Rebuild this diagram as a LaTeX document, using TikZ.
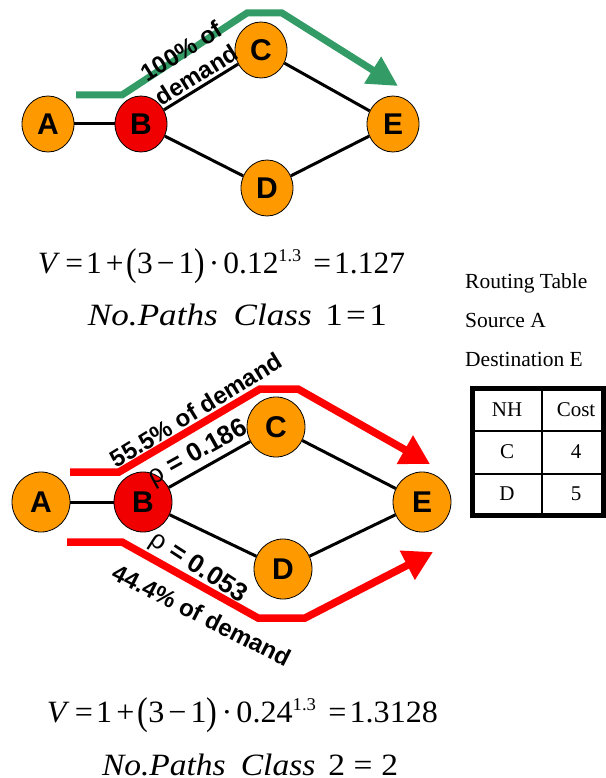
\documentclass[tikz,border=0pt]{standalone}
\usepackage{fontspec}
\usepackage{graphicx}
\setmainfont{Liberation Serif}
\newfontfamily\arialf{Liberation Sans}
\usetikzlibrary{arrows.meta,shapes.geometric}
\definecolor{nodeorange}{RGB}{255,153,0}
\definecolor{nodered}{RGB}{240,0,0}
\definecolor{flowgreencol}{RGB}{51,155,102}
\definecolor{flowredcol}{RGB}{255,0,0}
\newcommand{\bigparL}{\raisebox{-0.09em}{\scalebox{1}[1.25]{(}}}
\newcommand{\bigparR}{\raisebox{-0.09em}{\scalebox{1}[1.25]{)}}}
\newcommand{\supsm}[1]{\raisebox{0.36em}{\fontsize{18}{18}\selectfont #1}}
\tikzset{
  vnode/.style={ellipse, draw=black, line width=0.8pt, fill=nodeorange, inner sep=0pt,
    font=\arialf\bfseries\fontsize{30}{30}\selectfont},
  smallv/.style={minimum width=52pt, minimum height=56pt},
  bigv/.style={minimum width=58pt, minimum height=60pt},
  edgeln/.style={line width=3pt, black},
  flowgreen/.style={line width=7pt, flowgreencol, -{Triangle[length=30pt,width=30pt]}},
  flowred/.style={line width=7.5pt, flowredcol, -{Triangle[length=29pt,width=31pt]}},
  lbl/.style={font=\arialf\bfseries\fontsize{24}{28}\selectfont, inner sep=0pt, align=center},
  rholbl/.style={font=\arialf\bfseries\fontsize{26}{26}\selectfont, inner sep=0pt},
  formula/.style={font=\fontsize{31}{31}\selectfont, inner sep=0pt, anchor=base},
  tabtxt/.style={font=\fontsize{21.5}{21.5}\selectfont, inner sep=0pt, anchor=base west},
  celltxt/.style={font=\fontsize{21}{21}\selectfont, inner sep=0pt},
}
\begin{document}
\begin{tikzpicture}[x=1pt,y=-1pt]
\useasboundingbox (0,0) rectangle (605,778);

% ---------- top graph ----------
\node[vnode, smallv] (A1) at (48,124) {A};
\node[vnode, smallv, fill=nodered] (B1) at (141,124) {B};
\node[vnode, smallv] (C1) at (261,50) {C};
\node[vnode, smallv] (D1) at (267,188) {D};
\node[vnode, smallv] (E1) at (393,124) {E};
\draw[edgeln] (A1) -- (B1);
\draw[edgeln] (B1) -- (C1);
\draw[edgeln] (B1) -- (D1);
\draw[edgeln] (C1) -- (E1);
\draw[edgeln] (D1) -- (E1);

\coordinate (g0) at (76,95);
\coordinate (g1) at (122,95);
\coordinate (g2) at (247,13);
\coordinate (g3) at (282,13);
\coordinate (g4) at (398,86);
\draw[flowgreen] (g0) -- (g1) -- (g2) -- (g3) -- (g4);

\node[lbl, rotate=32] (L1) at (189,63) {100\% of\\demand};

% ---------- formulas top ----------
\node[formula] (F1) at (221.5,273) {\resizebox{367pt}{\height}{{\itshape V}\hspace{8pt}=\hspace{3pt}1\hspace{4pt}+\hspace{3pt}\bigparL 3\hspace{4pt}−\hspace{4pt}1\bigparR\hspace{4pt}·\hspace{4pt}0.12\supsm{1.3}\hspace{12pt}=\hspace{3pt}1.127}};
\node[formula] (P1) at (237.5,325) {\resizebox{299pt}{\height}{\itshape No.Paths\hspace{14pt}Class\hspace{12pt}\upshape 1\hspace{3pt}=\hspace{3pt}1}};

% ---------- routing table ----------
\node[tabtxt] (T1) at (465,288) {Routing Table};
\node[tabtxt] (T2) at (465,327) {Source A};
\node[tabtxt] (T3) at (465,366) {Destination E};
\draw[line width=5pt] (472.5,388) rectangle (603,515);
\draw[line width=1.5pt] (472.5,431) -- (603,431);
\draw[line width=1.5pt] (472.5,474) -- (603,474);
\draw[line width=1.5pt] (542,388) -- (542,515);
\node[celltxt] (c11) at (507,410) {NH};
\node[celltxt] (c12) at (576,410) {Cost};
\node[celltxt] (c21) at (507,452) {C};
\node[celltxt] (c22) at (576,452) {4};
\node[celltxt] (c31) at (507,494) {D};
\node[celltxt] (c32) at (576,494) {5};

% ---------- bottom graph ----------
\node[vnode, bigv] (A2) at (41,502) {A};
\node[vnode, bigv, fill=nodered] (B2) at (143,502) {B};
\node[vnode, bigv] (C2) at (276,427) {C};
\node[vnode, bigv] (D2) at (283,569) {D};
\node[vnode, bigv] (E2) at (422,502) {E};
\draw[edgeln] (A2) -- (B2);
\draw[edgeln] (B2) -- (C2);
\draw[edgeln] (B2) -- (D2);
\draw[edgeln] (C2) -- (E2);
\draw[edgeln] (D2) -- (E2);

\coordinate (r0) at (70,472);
\coordinate (r1) at (119,472);
\coordinate (r2) at (260,389);
\coordinate (r3) at (298,389);
\coordinate (r4) at (430,464);
\draw[flowred] (r0) -- (r1) -- (r2) -- (r3) -- (r4);

\coordinate (s0) at (67,542);
\coordinate (s1) at (122,542);
\coordinate (s2) at (258,618);
\coordinate (s3) at (305,618);
\coordinate (s4) at (433,552);
\draw[flowred] (s0) -- (s1) -- (s2) -- (s3) -- (s4);

\node[lbl, rotate=31.5] (L2) at (196,410) {55.5\% of demand};
\node[rholbl, rotate=29] (R1) at (198,453) {{\mdseries ρ} = 0.186};
\node[rholbl, rotate=-33] (R2) at (198,568) {{\mdseries ρ} = 0.053};
\node[lbl, rotate=-27] (L3) at (202,615) {44.4\% of demand};

% ---------- formulas bottom ----------
\node[formula] (F2) at (242.5,722) {\resizebox{391pt}{\height}{{\itshape V}\hspace{8pt}=\hspace{3pt}1\hspace{4pt}+\hspace{3pt}\bigparL 3\hspace{4pt}−\hspace{4pt}1\bigparR\hspace{4pt}·\hspace{4pt}0.24\supsm{1.3}\hspace{12pt}=\hspace{3pt}1.3128}};
\node[formula] (P2) at (250,775) {\resizebox{296pt}{\height}{\itshape No.Paths\hspace{14pt}Class\hspace{12pt}\upshape 2\hspace{8pt}=\hspace{8pt}2}};
\end{tikzpicture}
\end{document}
